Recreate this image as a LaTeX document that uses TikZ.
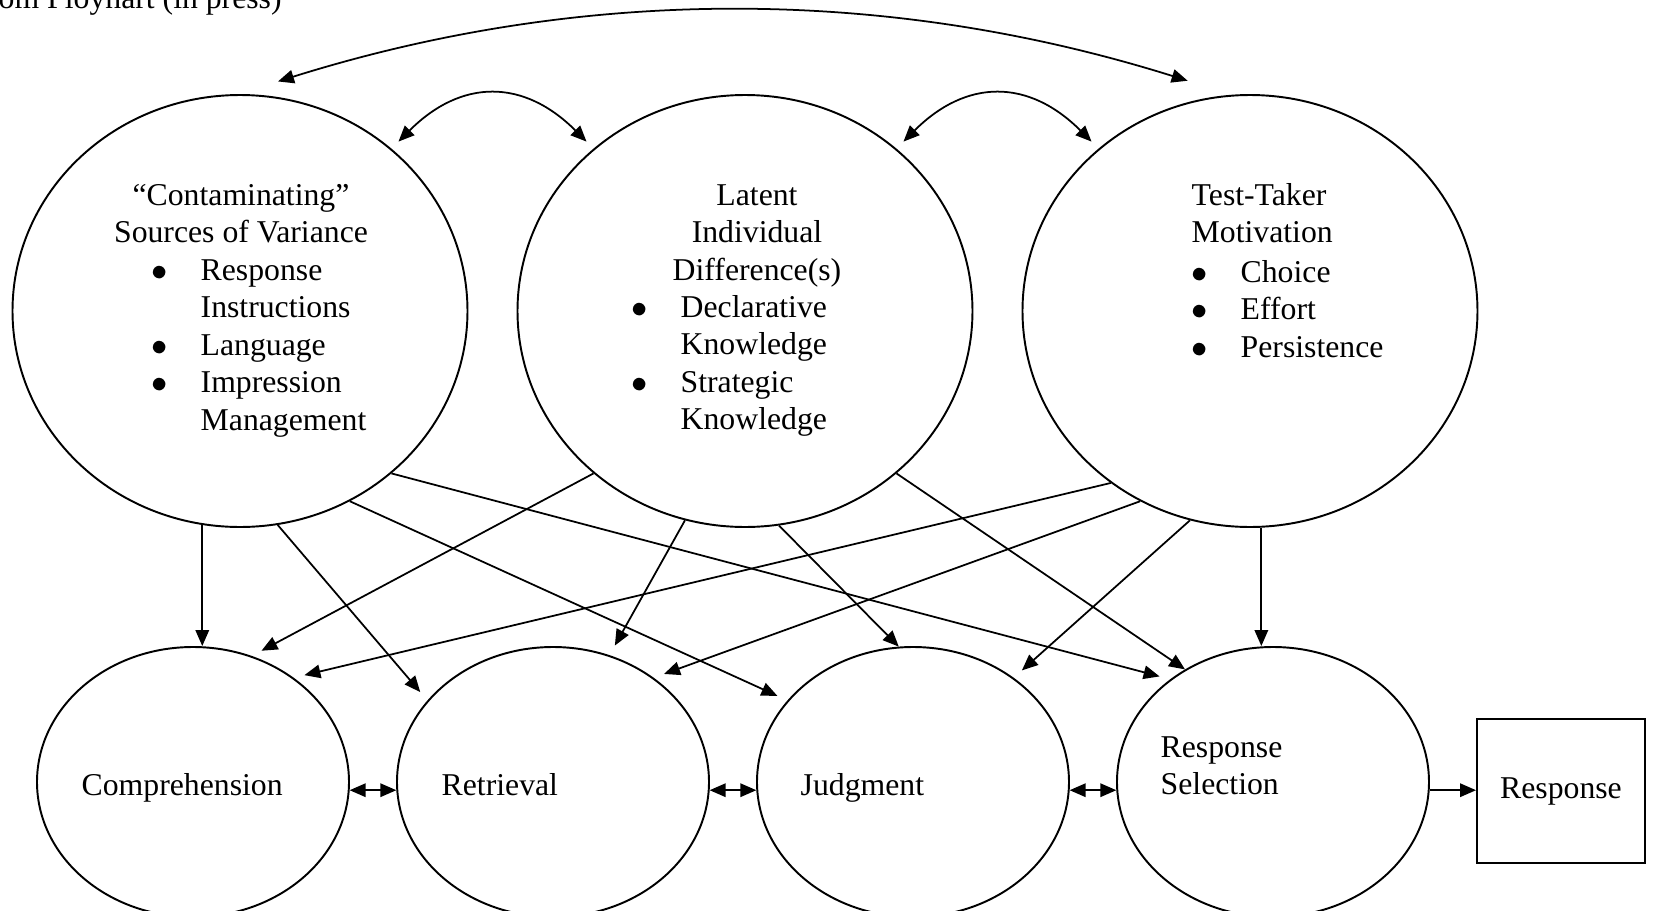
\documentclass[tikz,border=0pt]{standalone}
\usepackage{fontspec}
\setmainfont{Liberation Serif}
\usetikzlibrary{arrows.meta,shapes.geometric}
\tikzstyle{factor} = [ellipse, draw, line width=0.55pt, minimum width=45.5mm, minimum height=43.2mm, inner sep=0pt]
\tikzstyle{stage} = [ellipse, draw, line width=0.55pt, minimum width=31.2mm, minimum height=27mm, inner sep=0pt]
\tikzstyle{outbox} = [rectangle, draw, line width=0.55pt, minimum width=16.8mm, minimum height=14.4mm, inner sep=0pt]
\tikzstyle{txt} = [inner sep=0pt]
\tikzstyle{arrow} = [line width=0.5pt, -{Triangle[length=1.6mm,width=1.35mm]}]
\tikzstyle{twoway} = [line width=0.5pt, {Triangle[length=1.6mm,width=1.35mm]}-{Triangle[length=1.6mm,width=1.35mm]}]
\tikzstyle{offtip} = [shorten >=1.1mm]
\newcommand{\bul}{\raisebox{0pt}{$\bullet$}}

\begin{document}
\begin{tikzpicture}[x=0.1mm, y=-0.1mm, font=\fontsize{9.03pt}{10.7pt}\selectfont]
\path[use as bounding box, clip] (0,0) rectangle (1654,911);

% source line, cut at the top
\node[txt, anchor=base west] (src) at (-2,8) {om Ployhart (in press)};

% latent factors
\node[factor] (cont) at (240,311) {};
\node[factor] (latent) at (745,311) {};
\node[factor] (motiv) at (1250,311) {};

\node[txt, anchor=base] (conthead) at (241,205) {\begin{tabular}[t]{@{}c@{}}“Contaminating”\\Sources of Variance\end{tabular}};
\node[txt, anchor=base west] (contlist) at (151,280) {\begin{tabular}[t]{@{}p{4.9mm}@{}l@{}}\bul & Response\\ & Instructions\\ \bul & Language\\ \bul & Impression\\ & Management\end{tabular}};

\node[txt, anchor=base] (lathead) at (757,205) {\begin{tabular}[t]{@{}c@{}}Latent\\Individual\\Difference(s)\end{tabular}};
\node[txt, anchor=base west] (latlist) at (631,317) {\begin{tabular}[t]{@{}p{4.9mm}@{}l@{}}\bul & Declarative\\ & Knowledge\\ \bul & Strategic\\ & Knowledge\end{tabular}};

\node[txt, anchor=base west] (mothead) at (1191,205) {\begin{tabular}[t]{@{}l@{}}Test-Taker\\Motivation\end{tabular}};
\node[txt, anchor=base west] (motlist) at (1191,282) {\begin{tabular}[t]{@{}p{4.9mm}@{}l@{}}\bul & Choice\\ \bul & Effort\\ \bul & Persistence\end{tabular}};

% response process stages
\node[stage] (compr) at (193,782) {};
\node[stage] (retr) at (553,782) {};
\node[stage] (judg) at (913,782) {};
\node[stage] (select) at (1273,782) {};
\node[outbox] (resp) at (1561,791) {Response};

\node[txt, anchor=base west] (comprtxt) at (81,795) {Comprehension};
\node[txt, anchor=base west] (retrtxt) at (441,795) {Retrieval};
\node[txt, anchor=base west] (judgtxt) at (800,795) {Judgment};
\node[txt, anchor=base west] (seltxt) at (1160,757) {\begin{tabular}[t]{@{}l@{}}Response\\Selection\end{tabular}};

% correlations among the factors
\draw[twoway] ([shift={(4,-15)}]cont.81) .. controls +(303,-95) and +(-303,-95) .. ([shift={(-6,-20)}]motiv.105);
\draw[twoway] ([shift={(7,-7)}]cont.47) .. controls +(63,-63) and +(-63,-63) .. ([shift={(-7,-7)}]latent.133);
\draw[twoway] ([shift={(7,-7)}]latent.47) .. controls +(63,-63) and +(-63,-63) .. ([shift={(-7,-7)}]motiv.133);

% factor to stage paths
\draw[arrow] (cont.-100) -- (cont.-100 |- compr.north);
\draw[arrow, offtip] (cont.-80) -- (retr.147);
\draw[arrow, offtip] (cont.-60) -- (judg.147);
\draw[arrow, offtip] (cont.-47) -- (select.135);
\draw[arrow, offtip] (latent.-133) -- (compr.65);
\draw[arrow, offtip] (latent.-106) -- (retr.66);
\draw[arrow] (latent.-81) -- (judg.96);
\draw[arrow] (latent.-47) -- (select.128);
\draw[arrow, offtip] (motiv.-129) -- (compr.46);
\draw[arrow, offtip] (motiv.-120) -- (retr.46);
\draw[arrow, offtip] (motiv.-106) -- (judg.46);
\draw[arrow] (motiv.-87) -- (motiv.-87 |- select.north);

% links between stages
\draw[twoway] (compr.-3) -- (retr.183);
\draw[twoway] (retr.-3) -- (judg.183);
\draw[twoway] (judg.-3) -- (select.183);
\draw[arrow] (select.-3) -- (select.-3 -| resp.west);
\end{tikzpicture}
\end{document}
